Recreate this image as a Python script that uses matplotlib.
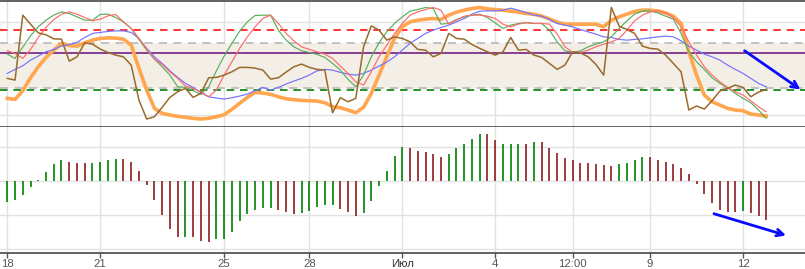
import matplotlib
matplotlib.use('Agg')
import matplotlib.pyplot as plt
import numpy as np

plt.rcParams['font.family'] = ['Liberation Sans', 'DejaVu Sans']

# ---- data ----
tick_labels = ['18', '21', '25', '28', 'Июл', '4', '12:00', '9', '12']
tick_index = [0, 12, 28, 39, 51, 63, 73, 83, 95]

osc_green = [73, 68.7, 80, 91.3, 100.3, 107, 112, 115.3, 113.7, 110.3, 107, 107, 112.7, 113, 109.7, 105.3,
             98.7, 87.7, 77, 68, 60.3, 52, 40.3, 39.7, 36.3, 32.7, 40.3, 56.3, 71, 83.7, 96, 105.3, 111.7, 112,
             112, 97, 87, 80.3, 76.3, 74.7, 72.7, 69.7, 63.7, 57, 47.7, 40.3, 52, 70.3, 84.3, 95.3, 103.7,
             110.3, 116, 117.7, 119.7, 118.7, 103, 103.7, 107.7, 110.3, 112, 113, 109.7, 104.3, 98.7, 102,
             103.7, 104.3, 103.7, 103.7, 97, 85.3, 76.3, 74.7, 76.3, 80.3, 83, 85.3, 90.3, 98.7, 106.3, 113,
             116, 116.3, 114.3, 111, 108, 93.7, 75.3, 65.3, 57.7, 49.3, 43.7, 39.3, 33.7, 28.7, 24.3, 17, 8.7]
osc_red = [76.3, 73.7, 68.7, 77.7, 89.7, 99.7, 107.7, 113, 115.3, 113, 109.7, 106.3, 108, 111.3, 112.7,
           105.3, 98.7, 88.7, 78, 68, 62.7, 55.3, 48.7, 41, 38.7, 35.3, 30.3, 37, 52, 65.3, 78.7, 90.3, 100.3,
           108.7, 112, 103.7, 93.7, 86.3, 80.3, 77.7, 75.3, 73, 68.7, 61, 53.7, 45.3, 42, 55.3, 70.3, 82,
           93.7, 103.7, 112, 115.3, 117.7, 119.7, 117, 103, 107, 111, 112, 112, 111, 108.7, 103, 100.3, 103,
           104.7, 103.7, 103.7, 103, 93, 80.3, 74.7, 74.7, 77, 80.3, 83, 85.3, 88.7, 97, 106.3, 112, 115.3,
           116.3, 114.3, 109.7, 100.3, 85.3, 72, 60.3, 52, 45.3, 39.7, 35.3, 32, 26.3, 20.3, 15.3]
osc_blue = [53.7, 57.7, 61.3, 67, 71, 75.3, 77.7, 81, 82.7, 84.7, 89.7, 93.7, 94.7, 95.7, 96.3, 96.3, 94.7,
            88.7, 78.7, 70.3, 63.7, 56.3, 49.7, 43.7, 39.7, 34.3, 30.3, 29, 28, 29.3, 31, 33, 36.3, 39.7,
            37, 39.7, 43, 46, 48.7, 52, 56.3, 57.7, 57, 54.7, 53, 52, 53.7, 57, 61, 65, 70.3, 77, 83.7, 88.7,
            93.7, 97, 99.7, 102, 105.3, 108.7, 113, 116, 116.3, 116.3, 117, 119, 117, 114.7, 112, 111, 107.7,
            103.7, 102, 100.3, 97.7, 95.3, 93, 90.3, 89.7, 87.7, 87, 87.7, 88.3, 89.3, 90.3, 91, 90.3, 86.3,
            81, 77, 73, 70.3, 67, 62, 57.7, 53.7, 48.7, 43.7, 40.3]
osc_orange = [28.7, 27.7, 36.3, 49.3, 60.3, 69.7, 77, 83.7, 81.7, 81, 84.3, 87, 88.7, 89.3, 89, 88, 82,
              58.7, 37, 18.7, 13.7, 12, 10.7, 9.7, 8.7, 8, 8.7, 10.3, 12.3, 17.7, 23.7, 29.7, 34.7, 34,
              32.7, 30.3, 28.3, 27.3, 26.7, 26.3, 26, 24.3, 20.3, 19.3, 17, 14.3, 19.7, 33.7, 52, 70.3, 88.7,
              100.3, 105.3, 107, 108, 108.7, 107.7, 112, 115, 117, 118.7, 119.7, 118.3, 117.7, 117, 116, 115,
              113.7, 113, 111, 108.3, 105, 103, 103, 103, 103, 103, 100.3, 107, 110.3, 113, 115.7, 117, 117,
              116.3, 114.3, 111, 103.7, 75.3, 52, 32, 25.3, 22, 18.7, 17, 16.3, 13, 12, 11]
osc_brown = [48.7, 47, 112, 103, 94.3, 92.3, 88.3, 88, 66, 70.3, 84.3, 83, 78, 74.7, 72, 70.3, 62, 27, 8,
             10.3, 19.7, 29.7, 35.3, 38.7, 29.7, 33.7, 49.3, 49.7, 52, 55.3, 59.7, 59.7, 59, 57,
             48, 49.3, 55, 60.3, 63, 59.7, 57.7, 57, 14.3, 29.3, 25.3, 28.7, 80.3, 101.3, 97, 87, 90.3, 88.7,
             85.3, 77.7, 77, 70.3, 73.7, 93.7, 88.7, 88, 82.7, 78.7, 75.3, 72, 75.3, 89.7, 77, 77.7, 72,
             69.7, 63.7, 57.7, 62, 75.3, 74.3, 70.3, 62.7, 52, 119.7, 101, 97.7, 93.7, 81, 78.7, 78, 72, 63.7,
             55.3, 17, 21, 18, 26.3, 36, 38.7, 42, 39.7, 30.3, 35, 37.7]

level_upper = 96.7
level_lower = 36.7
band_top = 83.7
band_bottom = 38.7
level_mid = 73.7
top_grid = [12, 58.7, 105.3]

hist_values = [-0.61, -0.57, -0.42, -0.18, 0.02, 0.25, 0.49, 0.60, 0.55, 0.52, 0.52, 0.52, 0.55, 0.60, 0.63,
               0.63, 0.55, 0.28, -0.13, -0.57, -1.00, -1.41, -1.64, -1.64, -1.64, -1.76, -1.78, -1.71, -1.71,
               -1.49, -1.17, -0.97, -0.86, -0.79,
               -0.79, -0.86, -0.91, -0.97, -0.95, -0.89, -0.76, -0.71, -0.71, -0.83, -0.91, -1.02, -0.95,
               -0.59, -0.16, 0.29, 0.72, 0.98, 0.96, 0.88, 0.84, 0.78, 0.69, 0.78, 0.96, 1.07, 1.22, 1.36,
               1.36, 1.19, 1.07, 1.07, 1.07, 1.07, 1.14,
               1.14, 0.96, 0.81, 0.66, 0.60, 0.52, 0.52, 0.49, 0.46, 0.43, 0.49, 0.52, 0.60, 0.69, 0.69, 0.60,
               0.55, 0.49, 0.37, 0.19, -0.09, -0.38, -0.64, -0.85, -0.91, -0.91, -0.88, -0.94, -1.02, -1.14]
hist_dir = list('gggggggg' 'rrr' 'gggg' 'rrrrrrrr' 'g' 'rrr' 'gggggggg' 'rrr' 'ggggg' 'rrr' 'gggggg'
                'rrrrr' 'ggggg' 'rr' 'ggg' 'r' 'g' 'rrrrrrrrrr' 'gggg' 'rrrrrrrrrrrr' 'g' 'rrr')
hist_grid = [-2, -1, 0, 1]

# ---- figure ----
W, H = 805, 269
fig = plt.figure(figsize=(W / 100, H / 100), dpi=100)
ax1 = fig.add_axes([0, 1 - 126.7 / H, 1, (126.7 - 1.0) / H])
ax2 = fig.add_axes([0, 1 - 253.3 / H, 1, (253.3 - 126.7) / H], sharex=ax1)

x = np.arange(len(osc_green))
xlim = (-0.94, 103.0)
grid_c = '#e2e2e2'
spine_c = '#555555'

# top panel
ax1.set_xlim(*xlim)
ax1.set_ylim(0.3, 126.2)
for g in top_grid:
    ax1.axhline(g, color=grid_c, lw=1.0, zorder=0)
for t in tick_index:
    ax1.axvline(t, color=grid_c, lw=1.0, zorder=0)
ax1.axhspan(band_bottom, band_top, color='#f3eee6', lw=0, zorder=0.5)
ax1.axhline(band_top, color='#bdbdbd', lw=1.3, ls=(0, (4.5, 3.5)), zorder=1)
ax1.axhline(band_bottom, color='#bdbdbd', lw=1.3, ls=(0, (4.5, 3.5)), zorder=1)
ax1.axhline(level_mid, color='#6b0f7a', lw=1.1, zorder=1)
ax1.axhline(level_upper, color='#ff1010', lw=1.2, ls=(0, (4.5, 3.5)), zorder=1)
ax1.axhline(level_lower, color='#008000', lw=1.2, ls=(0, (4.5, 3.5)), zorder=1)

ax1.plot(x, osc_orange, color='#ffa64f', lw=2.6, zorder=2, solid_joinstyle='round')
ax1.plot(x, osc_blue, color='#7272ff', lw=0.85, zorder=3)
ax1.plot(x, osc_green, color='#5aad5a', lw=0.85, zorder=3)
ax1.plot(x, osc_red, color='#ff6a6a', lw=0.85, zorder=3)
ax1.plot(x, osc_brown, color='#9a6a2c', lw=1.1, zorder=4)

ax1.annotate('', xy=(102.7, 36), xytext=(94.9, 78),
             arrowprops=dict(arrowstyle='->', color='#0a0aff', lw=2.0, mutation_scale=12), zorder=5)

for s in ['left', 'right']:
    ax1.spines[s].set_visible(False)
for s in ['top', 'bottom']:
    ax1.spines[s].set_color(spine_c)
    ax1.spines[s].set_linewidth(1.3)
ax1.tick_params(left=False, labelleft=False, bottom=False, labelbottom=False)
ax1.set_yticks([])

# bottom panel
ax2.set_ylim(-2.12, 1.58)
for g in hist_grid:
    ax2.axhline(g, color=grid_c, lw=1.0, zorder=0)
for t in tick_index:
    ax2.axvline(t, color=grid_c, lw=1.0, zorder=0)
col_map = {'g': '#008000', 'r': '#8b1e1e'}
xb = np.arange(len(hist_values))
ax2.vlines(xb, 0, hist_values, colors=[col_map[c] for c in hist_dir], lw=1.2, zorder=2)

ax2.annotate('', xy=(100.9, -1.62), xytext=(90.9, -0.94),
             arrowprops=dict(arrowstyle='->', color='#0a0aff', lw=2.0, mutation_scale=12), zorder=5)

for s in ['left', 'right', 'top']:
    ax2.spines[s].set_visible(False)
ax2.spines['bottom'].set_color(spine_c)
ax2.spines['bottom'].set_linewidth(1.3)
ax2.set_yticks([])
ax2.set_xticks(tick_index)
ax2.set_xticklabels(tick_labels)
ax2.tick_params(axis='x', direction='out', length=3.5, width=1, color=spine_c,
                labelsize=8.2, labelcolor='#555555', pad=0.8)
for lbl in ax2.get_xticklabels():
    if lbl.get_text() == 'Июл':
        lbl.set_color('#333333')

fig.savefig('out.png', dpi=100)
